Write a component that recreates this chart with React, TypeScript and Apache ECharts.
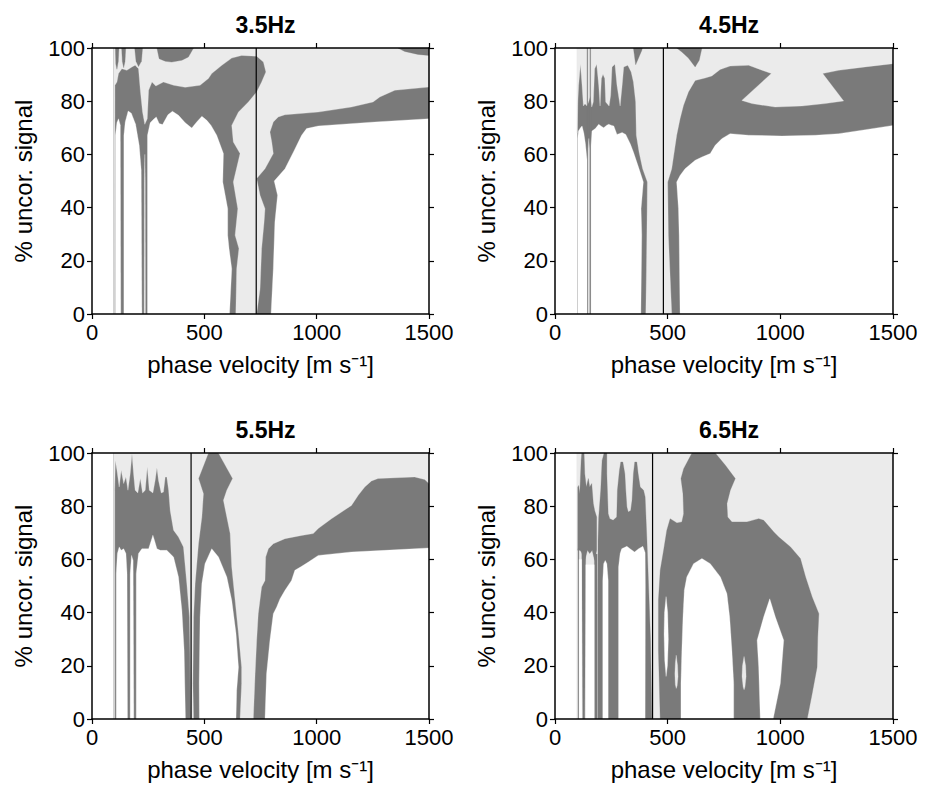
import React, { useEffect, useRef } from "react";
import * as echarts from "echarts";

type Pt = [number, number];

// ---------- axis ticks ----------
const X_MIN = 0;
const X_MAX = 1500;
const X_STEP = 500;
const Y_MIN = 0;
const Y_MAX = 100;
const Y_STEP = 20;

const TITLES = ["3.5Hz", "4.5Hz", "5.5Hz", "6.5Hz"];
// reference phase velocity marked by the thin vertical line
const REF_VELOCITY = [731, 481, 441, 433];

// ---------- 3.5 Hz: contour regions (velocity m/s, % uncorrelated) ----------
const p35Base: Pt[] = [[96, 0], [1500, 0], [1500, 100], [96, 100]];
const p35Light: Pt[] = [
  [640, 0], [644, 17], [654, 24.6], [637, 29.6], [649, 39.6], [629, 49.6], [659, 60.3], [629, 64.7],
  [622, 70.9], [652, 75.9], [696, 79.7], [733, 83.5], [755, 87.2], [774, 91], [763, 94.7], [733, 96.9],
  [666, 97.2], [622, 96.2], [578, 93.5], [533, 90.4], [518, 88.5], [481, 86], [415, 85.2], [363, 86],
  [318, 87.2], [284, 85.7], [267, 87.2], [252, 84.1], [246, 73.4], [235, 71.3], [225, 75.9], [215, 84.1],
  [207, 92.2], [192, 93.5], [178, 92.9], [155, 91.6], [133, 92.2], [118, 90.4], [111, 87.2], [102, 86],
  [101, 0], [96, 0], [96, 100], [1500, 100], [1500, 85.3], [1348, 84.1], [1281, 81.6], [1251, 79.7],
  [1155, 77.8], [1007, 75.9], [859, 74.9], [829, 74.1], [807, 72.2], [792, 68.4], [800, 64.7], [807, 60.3],
  [770, 54.6], [733, 50.9], [748, 44.6], [770, 39.6], [766, 34.6], [755, 24.6], [748, 9.5], [733, 0],
];
const p35StripCore: Pt[] = [[232, 0], [233, 50], [235, 60], [237, 50], [238, 0]];
const p35Low1: Pt[] = [
  [247, 0], [247, 67.2], [259, 71.9], [274, 73.2], [286, 74.1], [299, 71.6], [314, 71.2], [338, 74.9],
  [358, 76.2], [385, 74.7], [415, 71.9], [444, 69.9], [466, 72.2], [489, 74.3], [511, 72.8], [530, 70.9],
  [555, 67.2], [585, 60.3], [582, 49.6], [604, 39.6], [604, 29.6], [610, 24.6], [622, 17], [612, 0],
];
const p35Low2: Pt[] = [[142, 0], [142, 67.2], [148, 72.2], [161, 76.3], [175, 75.5], [194, 71.3], [210, 63.4], [219, 54], [222, 0]];
const p35Low3: Pt[] = [[104, 0], [104, 67], [111, 72], [118, 73.4], [126, 71], [128, 0]];
const p35Low4: Pt[] = [
  [797, 0], [807, 17], [814, 34.6], [826, 44.6], [811, 50], [859, 54.6], [900, 61.5], [933, 67.2],
  [955, 69.7], [1007, 70.7], [1259, 72.2], [1500, 73.4], [1500, 0],
];
const p35Top1: Pt[] = [[289, 100], [299, 96], [326, 95], [355, 94.7], [400, 95.4], [429, 96.6], [452, 100]];
const p35Top2: Pt[] = [[1362, 100], [1392, 98.7], [1451, 97.6], [1500, 97.2], [1500, 100]];
const p35Top3: Pt[] = [[132, 100], [150, 100], [147, 95], [141, 92.6], [135, 95]];
const p35Top4: Pt[] = [[190, 100], [225, 100], [220, 95], [207, 93], [196, 95]];
const p35Top5: Pt[] = [[104, 100], [120, 100], [117, 95], [111, 92], [106, 94]];

// ---------- 4.5 Hz ----------
const p45Base: Pt[] = [[100, 0], [1500, 0], [1500, 100], [100, 100]];
const p45Light: Pt[] = [
  [403, 0], [406, 17], [409, 39.6], [410, 49.6], [389, 54.6], [373, 60.9], [361, 67.2], [358, 79.7],
  [348, 87.2], [338, 91], [323, 93.5], [305, 92.9], [298, 86], [289, 78.2], [275, 86], [266, 93.9],
  [253, 92.9], [247, 82.2], [240, 78.2], [225, 79.7], [221, 88.5], [213, 90.1], [206, 88.5], [200, 78.2],
  [194, 86], [185, 93.9], [176, 92.2], [170, 79.7], [163, 77.8], [157, 82], [150, 80], [142, 78.2],
  [133, 79], [126, 78.2], [120, 86], [113, 93.9], [105, 86], [101, 79], [98, 68], [97, 68], [97, 100],
  [1500, 100], [1500, 94.1], [1377, 92.9], [1259, 91.6], [1188, 90.4], [1281, 80.1], [1199, 79.1],
  [1096, 78.2], [977, 77.8], [874, 79.1], [829, 80.3], [960, 90.4], [859, 93.5], [777, 93.2], [733, 91.9],
  [696, 89.5], [666, 88.7], [622, 87.8], [592, 83.5], [570, 78.4], [555, 73.4], [540, 67.2], [518, 54.6],
  [500, 49.6], [503, 29.6], [518, 0],
];
const p45StripCore: Pt[] = [[147, 0], [147, 62], [150, 66], [153, 62], [153, 0]];
const p45Low1: Pt[] = [
  [160, 0], [160, 63.4], [164, 68.8], [179, 69.7], [194, 71.3], [204, 70.7], [216, 70], [228, 70.9],
  [238, 71.3], [252, 70.9], [261, 70.7], [275, 67.5], [287, 67.9], [298, 68.2], [314, 67.5], [335, 63.8],
  [348, 60.9], [363, 57.1], [373, 54.6], [392, 49.6], [382, 39.6], [385, 29.6], [381, 0],
];
const p45Low2: Pt[] = [[101, 0], [101, 66], [104, 68.8], [113, 70], [120, 70.7], [128, 68], [135, 64], [142, 58], [142, 0]];
const p45Low3: Pt[] = [
  [555, 0], [551, 29.6], [548, 39.6], [540, 49.6], [555, 52.1], [577, 54.6], [622, 57.8], [652, 59],
  [689, 60.3], [711, 63.4], [740, 65.9], [777, 67.8], [859, 67.2], [1007, 66.9], [1155, 67.2],
  [1259, 67.8], [1377, 69.3], [1500, 70.9], [1500, 0],
];
const p45Top1: Pt[] = [[348, 100], [358, 93.7], [385, 99.1], [388, 100]];
const p45Top2: Pt[] = [[540, 100], [563, 98.5], [592, 96.2], [622, 92.9], [640, 95.4], [652, 100]];
const p45Line1: Pt[] = [[142, 66], [145, 66], [145, 100], [142, 100]];
const p45Line2: Pt[] = [[155, 66], [158, 66], [158, 100], [155, 100]];

// ---------- 5.5 Hz ----------
const p55Base: Pt[] = [[96, 0], [1500, 0], [1500, 100], [96, 100]];
const p55LightLeft: Pt[] = [
  [440, 0], [434, 38.3], [422, 50.9], [407, 64.7], [385, 68.4], [363, 71], [348, 78.4], [341, 86],
  [333, 91], [326, 91], [318, 85.3], [308, 85], [296, 89.7], [289, 94.5], [281, 89.7], [271, 85],
  [255, 86], [246, 94.7], [237, 86], [225, 85], [215, 90.4], [204, 85], [192, 86], [185, 92.2],
  [178, 99.7], [170, 92.2], [160, 86], [151, 91], [141, 88.5], [130, 93.5], [121, 87.2], [111, 93.5],
  [104, 97.2], [101, 86], [101, 0], [96, 0], [96, 100], [518, 100], [474, 90.4], [496, 84.7],
  [489, 75.9], [474, 65.9], [459, 50.9], [452, 38.3], [449, 13.3], [452, 0],
];
const p55LightRight: Pt[] = [
  [659, 0], [666, 13.3], [666, 19.5], [652, 32.1], [637, 44.6], [622, 57.1], [615, 69.7], [600, 75.9],
  [585, 82.2], [600, 86], [626, 90.4], [563, 100], [1500, 100], [1500, 88.5], [1481, 90], [1436, 91],
  [1273, 90.4], [1244, 89.5], [1214, 87.2], [1185, 84.1], [1155, 80.3], [1111, 77.8], [1066, 75.3],
  [1007, 71.6], [985, 69.7], [933, 69], [859, 67.8], [807, 65.9], [785, 64], [773, 60.9], [770, 52.1],
  [755, 49.6], [740, 39.6], [733, 29.6], [726, 17], [718, 0],
];
const p55Arch: Pt[] = [
  [478, 0], [477, 13.3], [481, 38.3], [489, 50.9], [503, 58.4], [533, 64], [563, 60.9], [600, 53.4],
  [622, 44.6], [641, 32.1], [652, 19.5], [644, 10.8], [641, 0],
];
const p55LowMid: Pt[] = [
  [197, 0], [197, 54.6], [207, 62.2], [222, 64], [252, 64], [264, 67.2], [271, 69.1], [278, 67.2],
  [289, 64], [304, 63.4], [333, 63.4], [363, 60.9], [385, 53.4], [400, 40.9], [410, 25.8], [416, 0],
];
const p55LowA: Pt[] = [[170, 0], [170, 54.6], [176, 61.5], [183, 59.6], [186, 0]];
const p55LowB: Pt[] = [[108, 0], [108, 54.6], [113, 62.2], [121, 64.7], [130, 63.4], [141, 64], [151, 62.2], [156, 54.6], [158, 0]];
const p55LowRight: Pt[] = [
  [770, 0], [777, 17], [792, 29.6], [807, 39.6], [822, 42.1], [837, 45.2], [859, 48.4], [888, 52.1],
  [903, 55.9], [933, 57.4], [963, 59], [1007, 61.5], [1155, 62.8], [1303, 63.4], [1500, 64.3], [1500, 0],
];

// ---------- 6.5 Hz ----------
const p65Base: Pt[] = [[96, 0], [1500, 0], [1500, 100], [96, 100]];
const p65Body: Pt[] = [
  [608, 100], [711, 100], [756, 95.4], [800, 90.4], [778, 86], [763, 81], [766, 75.9], [785, 74.1],
  [852, 74.1], [904, 75.3], [926, 74.7], [971, 70.3], [993, 68.4], [1045, 64.7], [1089, 60.3],
  [1112, 53.4], [1141, 45.9], [1171, 39.6], [1166, 30.8], [1163, 19.5], [1141, 9.5], [1119, 0],
  [467, 0], [459, 25.8], [459, 44.6], [467, 55.9], [482, 63.4], [496, 70.9], [511, 75.3], [541, 73.7],
  [563, 74.1], [571, 77.2], [568, 84.7], [559, 90.4], [571, 94.1],
];
const p65BandLeft: Pt[] = [
  [101, 63.4], [101, 87.2], [105, 87.8], [110, 84.7], [116, 97.2], [119, 100], [129, 100], [132, 92.2],
  [139, 87.2], [148, 90.4], [154, 87.2], [163, 88.5], [170, 81], [176, 78.4], [185, 75.9], [185, 63.4],
  [176, 59.6], [165, 63.4], [154, 62.2], [144, 63.4], [132, 59.6], [117, 62.8], [110, 63.4],
];
const p65Strip1: Pt[] = [[102, 0], [102, 64], [106, 64], [106, 0]];
const p65Strip2: Pt[] = [[119, 63], [136, 63], [135, 44.6], [132, 0], [123, 0], [120, 44.6]];
const p65Strip3: Pt[] = [[175, 0], [175, 62], [187, 62], [187, 0]];
const p65BandMid: Pt[] = [
  [190, 0], [190, 42.1], [191, 67.2], [194, 75.9], [203, 86], [209, 97.2], [218, 100], [230, 100],
  [230, 92.2], [236, 77.2], [243, 75.3], [258, 74.7], [274, 75.9], [277, 86], [286, 93.5], [292, 96.6],
  [301, 96.6], [310, 92.2], [314, 86], [319, 79.7], [325, 77.8], [336, 78.4], [342, 82.2], [348, 92.2],
  [354, 96.6], [363, 96.6], [369, 92.2], [378, 87.2], [393, 86], [400, 83.5], [408, 67.2], [416, 48.4],
  [424, 29.6], [430, 0],
];
const p65LowS1: Pt[] = [[107, 0], [107, 60], [118, 60], [119, 0]];
const p65LowS2: Pt[] = [[137, 0], [137, 58], [174, 58], [174, 0]];
const p65LowA: Pt[] = [[212, 0], [212, 52.1], [216, 58.4], [223, 59.6], [230, 58.4], [236, 52.1], [236, 0]];
const p65LowB: Pt[] = [
  [282, 0], [282, 57.1], [289, 62.2], [296, 64], [319, 64.9], [333, 64], [353, 62.8], [371, 64],
  [390, 64.9], [400, 62.5], [401, 50], [400, 0],
];
const p65Arch: Pt[] = [
  [559, 0], [559, 13.3], [563, 25.8], [568, 38.3], [574, 48.4], [585, 53.4], [615, 58.4], [652, 60.3],
  [689, 58.4], [734, 53.4], [763, 47.1], [775, 38.3], [785, 25.8], [793, 13.3], [793, 0],
];
const p65HoleRight: Pt[] = [[911, 0], [904, 19.5], [897, 29.6], [926, 38.3], [953, 45.2], [978, 38.3], [1015, 29.6], [1000, 13.3], [968, 0]];
const p65Lens: Pt[] = [[493, 46], [500, 40], [503, 30], [499, 20], [493, 16], [487, 22], [484, 32], [486, 40]];
const p65SpotLeft: Pt[] = [[538, 24], [544, 20], [546, 16], [542, 12.5], [538, 11.5], [534, 13], [532, 17], [534, 21]];
const p65SpotRight: Pt[] = [[839, 23.5], [846, 20], [848, 16], [843, 12], [839, 11], [835, 12], [830, 16], [832, 20]];

// ---------- styling ----------
const TONE: Record<string, string> = { light: "#ebebeb", dark: "#7a7a7a", white: "#ffffff" };
const FONT = "'Liberation Sans', Arial, Helvetica, sans-serif";

type Layer = [string, Pt[]];

// drawing order per panel: later layers paint over earlier ones
const PANEL_LAYERS: Layer[][] = [
  [
    ["dark", p35Base], ["light", p35Light], ["light", p35StripCore],
    ["white", p35Low1], ["white", p35Low2], ["white", p35Low3], ["white", p35Low4],
    ["dark", p35Top1], ["dark", p35Top2], ["dark", p35Top3], ["dark", p35Top4], ["dark", p35Top5],
  ],
  [
    ["dark", p45Base], ["light", p45Light], ["light", p45StripCore],
    ["white", p45Low1], ["white", p45Low2], ["white", p45Low3],
    ["dark", p45Top1], ["dark", p45Top2], ["dark", p45Line1], ["dark", p45Line2],
  ],
  [
    ["dark", p55Base], ["light", p55LightLeft], ["light", p55LightRight],
    ["white", p55Arch], ["white", p55LowMid], ["white", p55LowA], ["white", p55LowB], ["white", p55LowRight],
  ],
  [
    ["light", p65Base], ["dark", p65Body], ["dark", p65BandLeft], ["dark", p65Strip1], ["dark", p65Strip2],
    ["dark", p65Strip3], ["dark", p65BandMid],
    ["white", p65LowS1], ["white", p65LowS2], ["white", p65LowA], ["white", p65LowB],
    ["white", p65Arch], ["white", p65HoleRight], ["white", p65Lens],
    ["light", p65SpotLeft], ["light", p65SpotRight],
  ],
];

const GRIDS = [
  { left: 92, top: 48, width: 337, height: 266 },
  { left: 555, top: 48, width: 338, height: 266 },
  { left: 92, top: 453, width: 337, height: 266 },
  { left: 555, top: 453, width: 338, height: 266 },
];

function buildOption() {
  const axisLine = { show: true, onZero: false, lineStyle: { color: "#000", width: 1.5 } };
  const axisTick = { show: true, inside: false, length: 5, lineStyle: { color: "#000", width: 1.2 } };
  const tickLabel = {
    show: true, fontSize: 22, color: "#000", margin: 7, fontFamily: FONT,
    hideOverlap: false, showMinLabel: true, showMaxLabel: true,
    formatter: (v: number) => String(v),
  };
  const xAxis: any[] = [];
  const yAxis: any[] = [];
  const series: any[] = [];

  GRIDS.forEach((_, i) => {
    const xBase = {
      type: "value", gridIndex: i, min: X_MIN, max: X_MAX, interval: X_STEP,
      axisLine, axisTick, splitLine: { show: false }, z: 10,
    };
    const yBase = {
      type: "value", gridIndex: i, min: Y_MIN, max: Y_MAX, interval: Y_STEP,
      axisLine, axisTick, splitLine: { show: false }, z: 10,
    };
    xAxis.push({
      ...xBase, position: "bottom",
      axisLabel: tickLabel,
      name: "phase velocity [m s\u207B\u00B9]", nameLocation: "middle", nameGap: 38,
      nameTextStyle: { fontSize: 24, color: "#000", fontFamily: FONT },
    });
    xAxis.push({ ...xBase, position: "top", axisLabel: { show: false } });
    yAxis.push({
      ...yBase, position: "left",
      axisLabel: tickLabel,
      name: "% uncor. signal", nameLocation: "middle", nameGap: 57,
      nameTextStyle: { fontSize: 24, color: "#000", fontFamily: FONT },
    });
    yAxis.push({ ...yBase, position: "right", axisLabel: { show: false } });

    const layers = PANEL_LAYERS[i];
    series.push({
      type: "custom",
      xAxisIndex: 2 * i,
      yAxisIndex: 2 * i,
      clip: true,
      silent: true,
      data: layers.map((_, k) => [k]),
      renderItem: (params: any, api: any) => {
        const [tone, pts] = layers[params.dataIndex];
        const points = pts.map((p) => api.coord(p));
        return {
          type: "polygon",
          shape: { points },
          style: { fill: TONE[tone], stroke: TONE[tone], lineWidth: 0.3 },
        };
      },
      z: 2,
    });
    series.push({
      type: "line",
      xAxisIndex: 2 * i,
      yAxisIndex: 2 * i,
      data: [[REF_VELOCITY[i], Y_MIN], [REF_VELOCITY[i], Y_MAX]],
      symbol: "none",
      silent: true,
      lineStyle: { color: "#000", width: 1.2 },
      z: 5,
    });
  });

  const title = GRIDS.map((g, i) => ({
    text: TITLES[i],
    left: g.left + g.width / 2,
    top: g.top - 40,
    textAlign: "center",
    textStyle: { fontSize: 23, fontWeight: "bold", color: "#000", fontFamily: FONT },
  }));

  return {
    animation: false,
    backgroundColor: "#fff",
    textStyle: { fontFamily: FONT },
    title,
    grid: GRIDS.map((g) => ({ ...g, containLabel: false })),
    xAxis,
    yAxis,
    series,
  };
}

export default function App() {
  const ref = useRef<HTMLDivElement>(null);
  useEffect(() => {
    if (!ref.current) return;
    const chart = echarts.init(ref.current, null, { renderer: "svg" });
    chart.setOption(buildOption() as any);
    return () => chart.dispose();
  }, []);
  return (
    <div
      ref={ref}
      style={{ position: "absolute", left: 0, top: 0, width: 925, height: 787, background: "#fff" }}
    />
  );
}
